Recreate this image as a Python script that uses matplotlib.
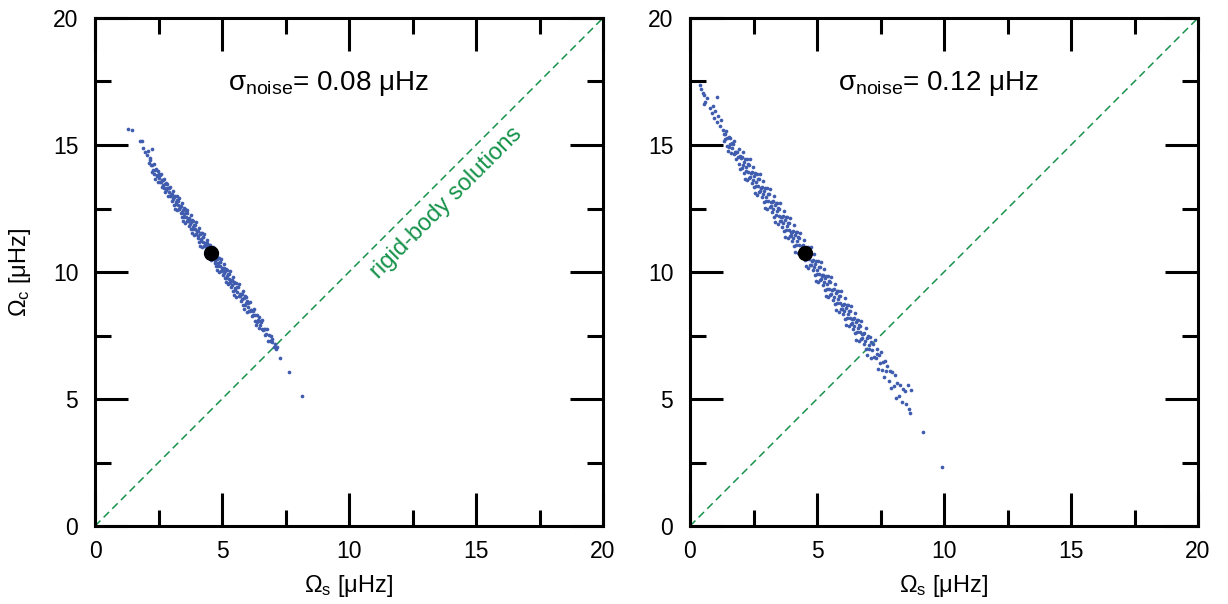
import matplotlib
matplotlib.use("Agg")
from matplotlib import pyplot as plt
from matplotlib.ticker import MultipleLocator

plt.rcParams['font.family'] = ['Liberation Sans', 'DejaVu Sans']
plt.rcParams['mathtext.fontset'] = 'custom'
plt.rcParams['mathtext.rm'] = 'Liberation Sans'
plt.rcParams['mathtext.it'] = 'Liberation Sans'

# left panel cloud, sigma_noise = 0.08 muHz
x_left = [1.31, 1.44, 1.77, 1.84, 1.90, 1.97, 2.03, 2.10, 2.23, 2.12, 2.15, 2.18,
          2.21, 2.24, 2.26, 2.29, 2.31, 2.33, 2.36, 2.38, 2.41, 2.43, 2.46, 2.48, 2.49,
          2.51, 2.53, 2.55, 2.57, 2.59, 2.61, 2.63, 2.65, 2.67, 2.69, 2.71, 2.72, 2.74, 2.76, 2.78,
          2.81, 2.83, 2.85, 2.87, 2.89, 2.91, 2.92, 2.94, 2.96, 2.98,
          3.01, 3.03, 3.05, 3.07, 3.09, 3.11, 3.12, 3.14, 3.16, 3.18, 3.19,
          3.21, 3.22, 3.24, 3.26, 3.28, 3.29, 3.31, 3.32, 3.34, 3.36, 3.37, 3.39,
          3.41, 3.42, 3.44, 3.46, 3.47, 3.49, 3.51, 3.52, 3.54, 3.56, 3.57, 3.59,
          3.61, 3.62, 3.64, 3.66, 3.67, 3.69, 3.71, 3.72, 3.74, 3.76, 3.77, 3.79,
          3.81, 3.82, 3.84, 3.86, 3.87, 3.89, 3.91, 3.92, 3.94, 3.96, 3.97, 3.99,
          4.01, 4.02, 4.04, 4.06, 4.07, 4.09, 4.11, 4.12, 4.14, 4.16, 4.17, 4.19,
          4.21, 4.22, 4.24, 4.26, 4.27, 4.29, 4.31, 4.32, 4.34, 4.36, 4.37, 4.39,
          4.41, 4.42, 4.44, 4.46, 4.47, 4.49, 4.51, 4.52, 4.54, 4.56, 4.57, 4.59,
          4.61, 4.62, 4.64, 4.66, 4.67, 4.69, 4.71, 4.72, 4.74, 4.76, 4.77, 4.79,
          4.81, 4.82, 4.84, 4.86, 4.87, 4.89, 4.91, 4.92, 4.94, 4.96, 4.97, 4.99,
          5.01, 5.02, 5.04, 5.06, 5.07, 5.09, 5.11, 5.12, 5.14, 5.16, 5.17, 5.19,
          5.21, 5.22, 5.24, 5.26, 5.27, 5.29, 5.31, 5.32, 5.34, 5.36, 5.37, 5.39,
          5.41, 5.42, 5.44, 5.46, 5.47, 5.49, 5.51, 5.53, 5.55, 5.57, 5.59,
          5.61, 5.63, 5.65, 5.67, 5.69, 5.71, 5.73, 5.75, 5.77, 5.79,
          5.81, 5.83, 5.85, 5.87, 5.89, 5.91, 5.93, 5.95, 5.97, 5.99,
          6.02, 6.04, 6.06, 6.09, 6.11, 6.13, 6.16, 6.18, 6.21, 6.23, 6.26, 6.28,
          6.31, 6.33, 6.36, 6.38, 6.41, 6.44, 6.46, 6.49, 6.51, 6.54, 6.56, 6.59,
          6.62, 6.65, 6.68, 6.71, 6.74, 6.77, 6.81, 6.84, 6.88, 6.92, 6.95, 6.98,
          7.03, 7.07, 7.12, 7.16, 7.28, 7.65, 8.14]
y_left = [15.62, 15.60, 15.16, 15.14, 14.87, 14.74, 14.60, 14.76, 14.84, 14.28, 14.40, 14.50,
          14.20, 13.94, 14.23, 14.01, 14.26, 13.85, 14.03, 13.68, 14.06, 13.77, 13.82, 13.98, 13.55,
          13.84, 13.69, 13.83, 13.53, 13.87, 13.53, 13.62, 13.35, 13.64, 13.43, 13.68, 13.29, 13.48, 13.13, 13.52,
          13.22, 13.29, 13.45, 13.00, 13.29, 13.14, 13.30, 13.00, 13.33, 12.99,
          13.07, 12.81, 13.08, 12.87, 13.20, 12.65, 12.95, 12.49, 13.00, 12.66, 12.76,
          12.98, 12.43, 12.83, 12.63, 12.80, 12.47, 12.93, 12.49, 12.58, 12.56, 12.31, 12.59,
          12.38, 12.72, 12.17, 12.45, 12.01, 12.52, 12.18, 12.29, 12.50, 11.94, 12.35, 12.15,
          12.33, 11.99, 12.45, 11.99, 12.10, 12.08, 11.82, 12.11, 11.90, 12.23, 11.69, 11.97,
          11.52, 12.04, 11.70, 11.79, 12.02, 11.46, 11.86, 11.68, 11.85, 11.50, 11.97, 11.51,
          11.61, 11.60, 11.34, 11.61, 11.42, 11.75, 11.20, 11.50, 11.04, 11.55, 11.22, 11.31,
          11.53, 10.98, 11.38, 11.18, 11.37, 11.02, 11.48, 11.04, 11.13, 11.11, 10.86, 11.13,
          10.93, 11.27, 10.72, 11.00, 10.56, 11.07, 10.73, 10.84, 11.05, 10.49, 10.90, 10.70,
          10.88, 10.54, 11.00, 10.54, 10.65, 10.63, 10.37, 10.66, 10.45, 10.78, 10.24, 10.52,
          10.07, 10.59, 10.25, 10.34, 10.57, 10.01, 10.41, 10.23, 10.40, 10.05, 10.52, 10.06,
          10.16, 10.15, 9.89, 10.16, 9.97, 10.30, 9.75, 10.05, 9.59, 10.10, 9.77, 9.86,
          10.08, 9.53, 9.93, 9.73, 9.92, 9.57, 10.03, 9.59, 9.68, 9.66, 9.41, 9.68,
          9.48, 9.82, 9.27, 9.55, 9.11, 9.62, 9.28, 9.37, 9.58, 9.02, 9.42,
          9.23, 9.40, 9.05, 9.51, 9.05, 9.14, 9.12, 8.86, 9.13, 8.93,
          9.26, 8.71, 8.99, 8.53, 9.04, 8.70, 8.79, 9.00, 8.44, 8.85,
          8.63, 8.76, 8.48, 8.83, 8.46, 8.52, 8.49, 8.28, 8.48, 8.30, 8.54, 8.09,
          8.30, 7.93, 8.32, 8.04, 8.10, 8.24, 7.79, 8.09, 7.92, 8.04, 7.76, 8.10,
          7.72, 7.77, 7.51, 7.75, 7.56, 7.76, 7.29, 7.53, 7.30, 7.47, 7.24, 7.36,
          7.04, 7.18, 6.96, 7.05, 6.62, 6.08, 5.13]

# right panel cloud, sigma_noise = 0.12 muHz
x_right = [0.39, 0.45, 0.50, 0.57, 0.60, 0.55, 0.66, 1.05, 0.78, 0.85, 0.90, 0.95, 1.00, 1.08, 1.12, 1.18, 1.22, 1.28,
           1.32, 1.35, 1.37, 1.39, 1.41, 1.44, 1.46, 1.49, 1.52, 1.54, 1.57, 1.59, 1.61, 1.64, 1.66, 1.68,
           1.72, 1.74, 1.76, 1.79, 1.81, 1.83, 1.86, 1.88, 1.91, 1.93, 1.96, 1.98,
           2.01, 2.03, 2.05, 2.07, 2.09, 2.11, 2.13, 2.15, 2.17, 2.19, 2.21, 2.23, 2.25, 2.27, 2.29,
           2.31, 2.33, 2.35, 2.37, 2.39, 2.41, 2.43, 2.45, 2.47, 2.49, 2.51, 2.53, 2.55, 2.57, 2.59,
           2.61, 2.63, 2.65, 2.67, 2.69, 2.71, 2.73, 2.75, 2.77, 2.79, 2.81, 2.83, 2.85, 2.87, 2.89,
           2.91, 2.93, 2.95, 2.97, 2.99, 3.01, 3.03, 3.05, 3.07, 3.09, 3.11, 3.13, 3.15, 3.17, 3.19,
           3.21, 3.23, 3.25, 3.27, 3.29, 3.31, 3.33, 3.35, 3.37, 3.39, 3.41, 3.43, 3.45, 3.47, 3.49,
           3.51, 3.53, 3.55, 3.57, 3.59, 3.61, 3.63, 3.65, 3.67, 3.69, 3.71, 3.73, 3.75, 3.77, 3.79,
           3.81, 3.83, 3.85, 3.87, 3.89, 3.91, 3.93, 3.95, 3.97, 3.99, 4.01, 4.03, 4.05, 4.07, 4.09,
           4.11, 4.13, 4.15, 4.17, 4.19, 4.21, 4.23, 4.25, 4.27, 4.29, 4.31, 4.33, 4.35, 4.37, 4.39,
           4.41, 4.43, 4.45, 4.47, 4.49, 4.51, 4.53, 4.55, 4.57, 4.59, 4.61, 4.63, 4.65, 4.67, 4.69,
           4.71, 4.73, 4.75, 4.77, 4.79, 4.81, 4.83, 4.85, 4.87, 4.89, 4.91, 4.93, 4.95, 4.97, 4.99,
           5.01, 5.03, 5.05, 5.07, 5.09, 5.11, 5.13, 5.15, 5.17, 5.19, 5.21, 5.23, 5.25, 5.27, 5.29,
           5.31, 5.33, 5.35, 5.37, 5.39, 5.41, 5.43, 5.45, 5.47, 5.49, 5.51, 5.53, 5.55, 5.57, 5.59,
           5.61, 5.63, 5.65, 5.67, 5.69, 5.71, 5.73, 5.75, 5.77, 5.79, 5.81, 5.83, 5.85, 5.87, 5.89,
           5.91, 5.93, 5.95, 5.97, 5.99, 6.01, 6.03, 6.05, 6.07, 6.09, 6.11, 6.13, 6.15, 6.17, 6.19,
           6.21, 6.23, 6.25, 6.27, 6.29, 6.31, 6.33, 6.35, 6.37, 6.39, 6.41, 6.43, 6.45, 6.47, 6.49,
           6.51, 6.53, 6.55, 6.57, 6.59, 6.61, 6.63, 6.65, 6.67, 6.69, 6.71, 6.73, 6.75, 6.77, 6.79,
           6.82, 6.84, 6.86, 6.89, 6.91, 6.93, 6.96, 6.98, 7.01, 7.04, 7.06, 7.09, 7.12, 7.14, 7.17,
           7.21, 7.24, 7.27, 7.32, 7.35, 7.38, 7.42, 7.45, 7.48, 7.52, 7.55, 7.58, 7.62, 7.66,
           7.72, 7.76, 7.83, 7.87, 7.92, 7.96, 8.03, 8.07, 8.12, 8.16, 8.24, 8.27, 8.33, 8.37,
           8.45, 8.52, 8.58, 8.62, 8.66, 8.70, 9.19, 9.91]
y_right = [17.36, 17.22, 17.05, 16.95, 16.70, 16.60, 16.85, 16.90, 16.45, 16.25, 16.55, 16.05, 16.35, 15.90, 16.15, 15.75, 16.00, 15.60,
           15.44, 15.15, 15.44, 15.22, 15.57, 14.98, 15.28, 14.78, 15.30, 14.94, 15.03, 15.26, 14.67, 15.08, 14.87, 15.05,
           14.65, 15.14, 14.67, 14.74, 14.73, 14.45, 14.73, 14.51, 14.85, 14.27, 14.56, 14.07,
           14.47, 14.09, 14.51, 14.21, 14.72, 13.91, 14.35, 13.67, 14.46, 13.96, 14.12, 14.45, 13.62, 14.24, 13.95,
           14.22, 13.72, 14.43, 13.75, 13.90, 13.89, 13.51, 13.93, 13.63, 14.14, 13.34, 13.78, 13.10, 13.88, 13.38,
           13.54, 13.87, 13.04, 13.67, 13.38, 13.65, 13.14, 13.85, 13.17, 13.32, 13.31, 12.94, 13.36, 13.06, 13.57,
           12.76, 13.20, 12.52, 13.30, 12.80, 12.97, 13.30, 12.47, 13.09, 12.80, 13.07, 12.56, 13.27, 12.60, 12.75,
           12.74, 12.36, 12.78, 12.48, 12.99, 12.18, 12.63, 11.95, 12.73, 12.23, 12.39, 12.72, 11.89, 12.51, 12.22,
           12.50, 11.99, 12.70, 12.02, 12.17, 12.16, 11.78, 12.20, 11.91, 12.42, 11.61, 12.05, 11.37, 12.15, 11.65,
           11.81, 12.15, 11.32, 11.94, 11.65, 11.92, 11.41, 12.12, 11.44, 11.59, 11.59, 11.21, 11.63, 11.33, 11.84,
           11.03, 11.47, 10.79, 11.58, 11.08, 11.24, 11.57, 10.74, 11.36, 11.07, 11.34, 10.84, 11.55, 10.87, 11.02,
           11.01, 10.63, 11.05, 10.75, 11.26, 10.46, 10.90, 10.22, 11.00, 10.50, 10.66, 10.99, 10.16, 10.79, 10.50,
           10.77, 10.26, 10.97, 10.29, 10.44, 10.43, 10.06, 10.48, 10.18, 10.69, 9.88, 10.32, 9.64, 10.42, 9.92,
           10.09, 10.42, 9.59, 10.21, 9.92, 10.19, 9.68, 10.39, 9.72, 9.87, 9.86, 9.48, 9.90, 9.60, 10.11,
           9.30, 9.75, 9.07, 9.85, 9.35, 9.51, 9.84, 9.01, 9.63, 9.34, 9.62, 9.11, 9.82, 9.14, 9.29,
           9.28, 8.90, 9.32, 9.03, 9.54, 8.73, 9.17, 8.49, 9.27, 8.77, 8.93, 9.27, 8.44, 9.06, 8.77,
           9.04, 8.53, 9.24, 8.56, 8.71, 8.71, 8.33, 8.75, 8.45, 8.96, 8.15, 8.59, 7.91, 8.70, 8.20,
           8.36, 8.69, 7.86, 8.48, 8.19, 8.46, 7.96, 8.67, 7.99, 8.14, 8.13, 7.75, 8.17, 7.87, 8.38,
           7.58, 8.02, 7.34, 8.12, 7.62, 7.78, 8.11, 7.28, 7.91, 7.62, 7.89, 7.38, 8.09, 7.41, 7.56,
           7.54, 7.16, 7.58, 7.27, 7.78, 6.97, 7.40, 6.72, 7.49, 6.97, 7.13, 7.45, 6.61, 7.23, 6.92,
           7.17, 6.64, 7.34, 6.62, 6.76, 6.96, 6.20, 6.75, 6.41, 6.85, 6.16, 6.46, 5.86, 6.50,
           6.11, 6.31, 5.70, 6.10, 5.42, 6.06, 5.52, 5.96, 5.04, 5.63, 5.11, 5.57, 4.88, 5.38,
           5.30, 4.80, 5.55, 4.60, 4.44, 5.35, 3.71, 2.33]

# reference (input) solution and the rigid-body diagonal
ref_s = [4.57, 4.53]
ref_c = [10.75, 10.76]
diag = [0, 20]
noise_labels = ["0.08", "0.12"]
title_x = [5.24, 5.83]

panels = [(x_left, y_left), (x_right, y_right)]
blue = '#3f5cae'
green = '#16924a'

fig = plt.figure(figsize=(12.28, 6.04), dpi=100)
lefts = [95 / 1228, 690 / 1228]

for i, (xs, ys) in enumerate(panels):
    ax = fig.add_axes([lefts[i], 78 / 604, 508 / 1228, 508 / 604])
    ax.plot(diag, diag, color=green, lw=1.1, dashes=(5, 3), zorder=1)
    ax.scatter(xs, ys, s=7, color=blue, linewidths=0, zorder=2)
    ax.plot(ref_s[i], ref_c[i], 'o', color='black', ms=10, zorder=3)
    ax.text(title_x[i], 17.17, r'σ$_{\rm noise}$= ' + noise_labels[i] + ' μHz',
            fontsize=20, ha='left', va='baseline')
    if i == 0:
        ax.text(13.82, 12.70, 'rigid-body solutions', color=green, fontsize=17,
                rotation=45, rotation_mode='anchor', ha='center', va='center')
        ax.set_ylabel(r'Ω$_{\rm c}$ [μHz]', fontsize=17)
        ax.yaxis.set_label_coords(-0.122, 0.5)

    ax.set_xlim(0, 20)
    ax.set_ylim(0, 20)
    ax.xaxis.set_major_locator(MultipleLocator(5))
    ax.yaxis.set_major_locator(MultipleLocator(5))
    ax.xaxis.set_minor_locator(MultipleLocator(2.5))
    ax.yaxis.set_minor_locator(MultipleLocator(2.5))
    ax.tick_params(which='both', direction='in', top=True, right=True, width=2.2, labelsize=16.5)
    ax.tick_params(which='major', length=23.8)
    ax.tick_params(which='minor', length=11.5)
    ax.tick_params(axis='x', pad=10)
    ax.tick_params(axis='y', pad=12)
    for sp in ax.spines.values():
        sp.set_linewidth(2.2)
    ax.set_xlabel(r'Ω$_{\rm s}$ [μHz]', fontsize=17)
    ax.xaxis.set_label_coords(0.5, -0.092)

plt.savefig("out.png", dpi=100)
